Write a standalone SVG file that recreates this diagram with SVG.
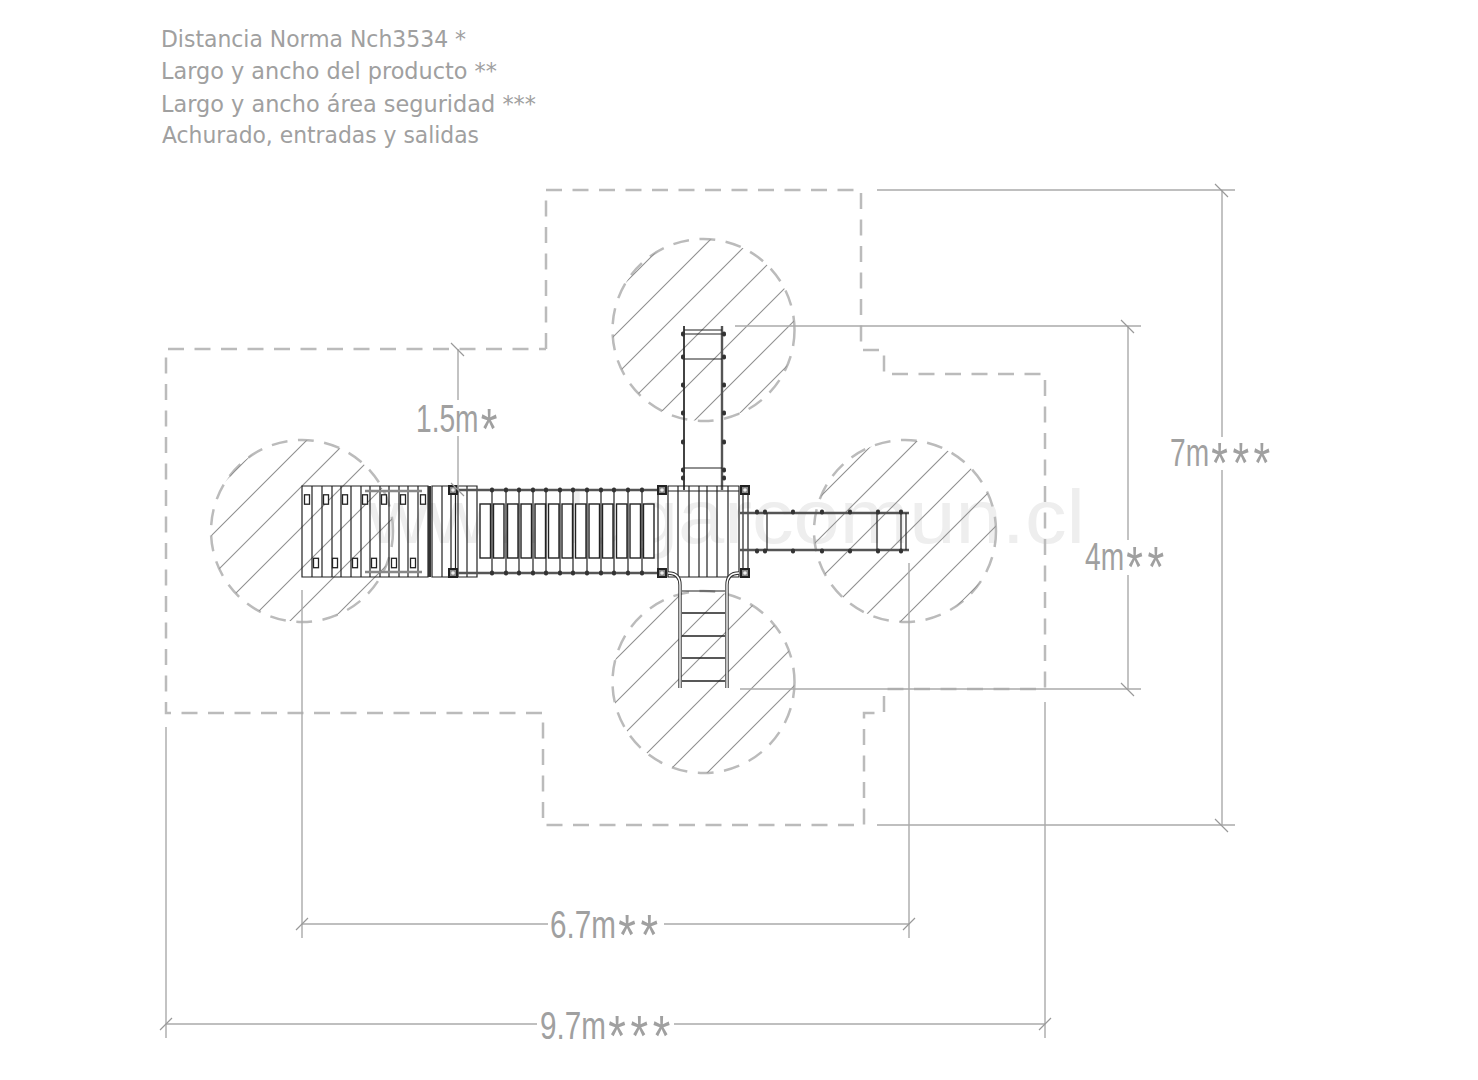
<svg xmlns="http://www.w3.org/2000/svg" width="1478" height="1080" viewBox="0 0 1478 1080">
<style>
.hd{font-family:"DejaVu Sans","Noto Sans",sans-serif;font-size:23px;fill:#a0a0a0}
.dm{font-family:"Liberation Sans",Arial,sans-serif;font-size:38px;fill:#a0a0a0}
.st{font-size:58px;letter-spacing:6px}
.wm{font-family:"Liberation Sans",Arial,sans-serif;font-size:76px;fill:#eee}
.safe{fill:none;stroke:#bbb;stroke-width:2.5;stroke-dasharray:16 10.5}
.zone{fill:none;stroke:#bbb;stroke-width:2.5;stroke-dasharray:16 10.5}
.hatch{fill:none;stroke:#909090;stroke-width:1.1}
.dim{fill:none;stroke:#aaa;stroke-width:1.4}
.tk{fill:none;stroke:#999;stroke-width:1.2}
.k{fill:none;stroke:#222;stroke-width:1.2}
.k2{fill:none;stroke:#222;stroke-width:1.7}
.r{fill:none;stroke:#555;stroke-width:2.4}
.g{fill:none;stroke:#888;stroke-width:2.5}
</style>
<defs>
<clipPath id="cL"><circle cx="302" cy="531" r="91"/></clipPath>
<clipPath id="cT"><circle cx="703.500" cy="330" r="91"/></clipPath>
<clipPath id="cR"><circle cx="905" cy="531" r="91"/></clipPath>
<clipPath id="cB"><circle cx="703.500" cy="682" r="91"/></clipPath>
<g id="post"><rect x="-4" y="-4" width="8" height="8" fill="#888" stroke="#222" stroke-width="2"/><circle r="1.800" fill="#eee"/></g>
<rect id="kn" x="-2" y="-2.500" width="4" height="5" rx="1.800" fill="#333"/>
<rect id="slot" x="-2.500" y="-4.700" width="5" height="9.400" fill="#fff" stroke="#222" stroke-width="1.300"/>
<rect id="plate" x="0" y="504" width="10.500" height="54" fill="#fff" stroke="#222" stroke-width="1.400"/>
</defs>

<rect width="1478" height="1080" fill="#fff"/>
<text id="watermark" class="wm" x="368" y="543" textLength="717" lengthAdjust="spacingAndGlyphs">www.lugarcomun.cl</text>

<g id="legend">
<text class="hd" x="161" y="47" textLength="305" lengthAdjust="spacingAndGlyphs">Distancia Norma Nch3534 *</text>
<text class="hd" x="161" y="79" textLength="336" lengthAdjust="spacingAndGlyphs">Largo y ancho del producto **</text>
<text class="hd" x="161" y="112" textLength="375" lengthAdjust="spacingAndGlyphs">Largo y ancho área seguridad ***</text>
<text class="hd" x="162" y="143" textLength="317" lengthAdjust="spacingAndGlyphs">Achurado, entradas y salidas</text>
</g>

<g id="safety-area">
<path class="safe" d="M546 349V190H861V350H884V374H1045V689H884V713H864V825H543V713H166V349H546"/>
</g>

<g id="zone-left">
<circle class="zone" cx="302" cy="531" r="91"/>
<path class="hatch" clip-path="url(#cL)" d="M285 421l-220 220M326 421l-220 220M367 421l-220 220M408 421l-220 220M449 421l-220 220M490 421l-220 220M531 421l-220 220"/>
</g>
<g id="zone-top">
<circle class="zone" cx="703.500" cy="330" r="91"/>
<path class="hatch" clip-path="url(#cT)" d="M688 220l-220 220M730 220l-220 220M771 220l-220 220M812 220l-220 220M853 220l-220 220M895 220l-220 220M933 220l-220 220"/>
</g>
<g id="zone-right">
<circle class="zone" cx="905" cy="531" r="91"/>
<path class="hatch" clip-path="url(#cR)" d="M896 421l-220 220M937 421l-220 220M978 421l-220 220M1019 421l-220 220M1060 421l-220 220M1101 421l-220 220M1142 421l-220 220"/>
</g>
<g id="zone-bottom">
<circle class="zone" cx="703.500" cy="682" r="91"/>
<path class="hatch" clip-path="url(#cB)" d="M703 572l-220 220M746 572l-220 220M786 572l-220 220M828 572l-220 220M868 572l-220 220M908 572l-220 220"/>
</g>

<g id="deck-left">
<path class="k" d="M302 486H428V577H302ZM312 486V577M322 486V577M332 486V577M341 486V577M351 486V577M361 486V577M370 486V577M380 486V577M389 486V577M399 486V577M408 486V577M418 486V577"/>
<path d="M429.500 486V577" fill="none" stroke="#333" stroke-width="3"/>
<path class="g" d="M365 491H422M365 572H422"/>
<use href="#slot" x="307" y="499.500"/><use href="#slot" x="326" y="499.500"/><use href="#slot" x="345" y="499.500"/><use href="#slot" x="365" y="499.500"/><use href="#slot" x="384" y="499.500"/><use href="#slot" x="403" y="499.500"/><use href="#slot" x="423" y="499.500"/>
<use href="#slot" x="316" y="563"/><use href="#slot" x="335" y="563"/><use href="#slot" x="355" y="563"/><use href="#slot" x="374" y="563"/><use href="#slot" x="394" y="563"/><use href="#slot" x="413" y="563"/>
</g>

<g id="platform-left">
<path class="k" d="M432 486H477V577H432ZM442 486V577M467 486V577M458 486V577"/>
<path class="k" d="M451 490V573M455.500 490V573"/>
<use href="#post" x="453" y="490"/><use href="#post" x="453" y="573"/>
</g>

<g id="bridge">
<path class="r" d="M458 490H660M458 573H660"/>
<path class="k" d="M492 490V573M506 490V573M519 490V573M533 490V573M546 490V573M560 490V573M573 490V573M587 490V573M601 490V573M614 490V573M628 490V573M642 490V573"/>
<use href="#plate" x="480"/><use href="#plate" x="493.500"/><use href="#plate" x="507.500"/><use href="#plate" x="521"/><use href="#plate" x="535"/><use href="#plate" x="548.500"/><use href="#plate" x="562"/><use href="#plate" x="575.500"/><use href="#plate" x="589"/><use href="#plate" x="602.500"/><use href="#plate" x="616.500"/><use href="#plate" x="630"/><use href="#plate" x="643.500"/>
<use href="#kn" x="492" y="490"/><use href="#kn" x="506" y="490"/><use href="#kn" x="519" y="490"/><use href="#kn" x="533" y="490"/><use href="#kn" x="546" y="490"/><use href="#kn" x="560" y="490"/><use href="#kn" x="573" y="490"/><use href="#kn" x="587" y="490"/><use href="#kn" x="601" y="490"/><use href="#kn" x="614" y="490"/><use href="#kn" x="628" y="490"/><use href="#kn" x="642" y="490"/>
<use href="#kn" x="492" y="573"/><use href="#kn" x="506" y="573"/><use href="#kn" x="519" y="573"/><use href="#kn" x="533" y="573"/><use href="#kn" x="546" y="573"/><use href="#kn" x="560" y="573"/><use href="#kn" x="573" y="573"/><use href="#kn" x="587" y="573"/><use href="#kn" x="601" y="573"/><use href="#kn" x="614" y="573"/><use href="#kn" x="628" y="573"/><use href="#kn" x="642" y="573"/>
</g>

<g id="ladder-top">
<path class="k2" d="M684 326V490"/><path class="r" d="M722 326V490"/>
<path class="k" d="M684 330H722" stroke="#777"/><path class="k" d="M684 334H722M684 359H722M684 468H722"/>
<use href="#kn" x="683" y="334"/><use href="#kn" x="683" y="357"/><use href="#kn" x="683" y="385"/><use href="#kn" x="683" y="413"/><use href="#kn" x="683" y="442"/><use href="#kn" x="683" y="470"/><use href="#kn" x="683" y="478"/>
<use href="#kn" x="724" y="334"/><use href="#kn" x="724" y="357"/><use href="#kn" x="724" y="385"/><use href="#kn" x="724" y="413"/><use href="#kn" x="724" y="442"/><use href="#kn" x="724" y="470"/><use href="#kn" x="724" y="478"/>
</g>

<g id="deck-center">
<path class="k" d="M658 486V577M668 486H739V577H668ZM678 486V577M689 486V577M699 486V577M707 486V577M717 486V577M728 486V577"/>
<path class="k" d="M668 491H739M743 486V577M748 486V577"/>
<use href="#post" x="662" y="490"/><use href="#post" x="662" y="573"/><use href="#post" x="745" y="490"/><use href="#post" x="745" y="573"/>
</g>

<g id="ladder-bottom">
<path d="M668 573Q680 573 680 585V688M739 573Q727 573 727 585V688" fill="none" stroke="#333" stroke-width="3.400"/>
<path d="M668 573Q680 573 680 585V688M739 573Q727 573 727 585V688" fill="none" stroke="#fff" stroke-width="1.400"/>
<path class="k" d="M682 591H725"/><path class="k2" d="M682 613H725M682 636H725M682 658H725M682 681H725"/>
</g>

<g id="slide-right">
<path class="r" d="M740 513H909M740 550H909"/>
<path class="k" d="M767 513V550M877 513V550M901 513V550M906 513V550"/>
<use href="#kn" x="757" y="512"/><use href="#kn" x="765" y="512"/><use href="#kn" x="793" y="512"/><use href="#kn" x="822" y="512"/><use href="#kn" x="850" y="512"/><use href="#kn" x="878" y="512"/><use href="#kn" x="901" y="512"/>
<use href="#kn" x="757" y="551"/><use href="#kn" x="765" y="551"/><use href="#kn" x="793" y="551"/><use href="#kn" x="822" y="551"/><use href="#kn" x="850" y="551"/><use href="#kn" x="878" y="551"/><use href="#kn" x="901" y="551"/>
</g>

<g id="connectors">
<path class="dim" d="M877 190H1235M877 825H1235M1222 190V437M1222 470V825"/>
<path class="dim" d="M735 326H1141M740 689H1141M1128 326V540M1128 575V689"/>
<path class="dim" d="M458 349V400M458 436V490"/>
<path class="dim" d="M302 590V938M909 563V938M302 924H548M664 924H909"/>
<path class="dim" d="M166 727V1038M1045 702V1038M166 1024H537M674 1024H1045"/>
<path class="tk" d="M1215 184l13 13M1121 320l13 13M1121 683l13 13M1215 819l13 13M451 343l13 13M451 483l13 13"/>
<path class="tk" d="M296 930l12-12M903 930l12-12M160 1030l12-12M1039 1030l12-12"/>
</g>

<g id="dimension-labels">
<text class="dm" transform="translate(416 432) scale(.74 1)">1.5m<tspan class="st" dx="3" dy="17">*</tspan></text>
<text class="dm" transform="translate(1170 466) scale(.74 1)">7m<tspan class="st" dx="3" dy="17">***</tspan></text>
<text class="dm" transform="translate(1085 570) scale(.74 1)">4m<tspan class="st" dx="3" dy="17">**</tspan></text>
<text class="dm" transform="translate(550 938) scale(.78 1)">6.7m<tspan class="st" dx="3" dy="17">**</tspan></text>
<text class="dm" transform="translate(540 1039) scale(.78 1)">9.7m<tspan class="st" dx="3" dy="17">***</tspan></text>
</g>
</svg>
